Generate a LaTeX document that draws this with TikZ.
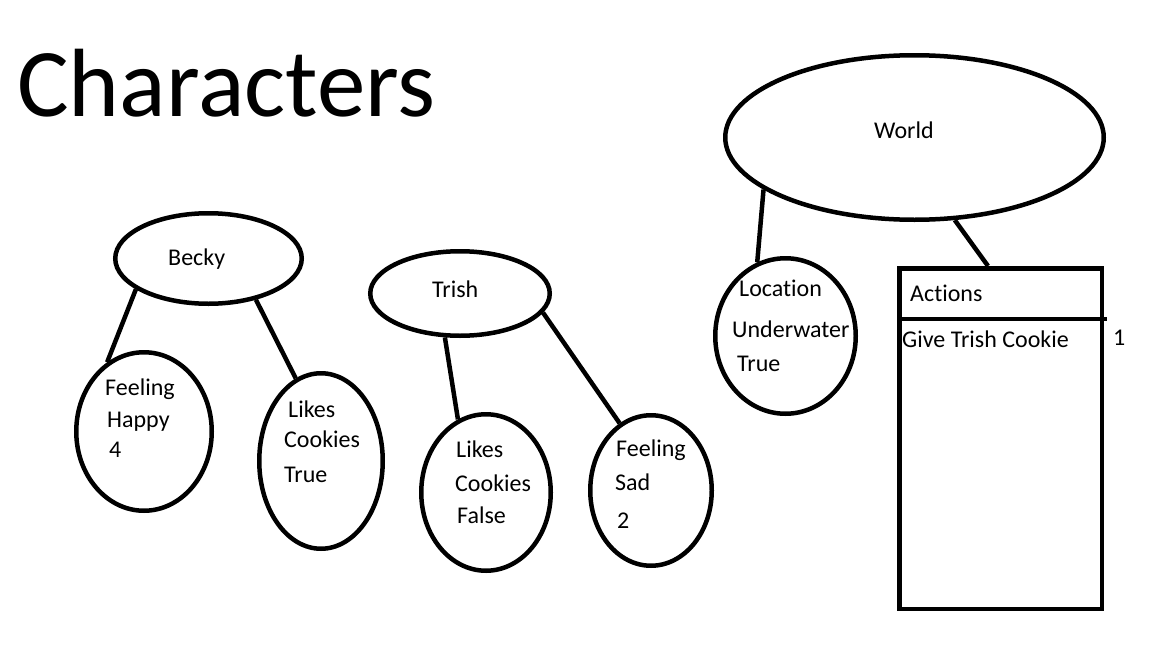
\documentclass[tikz,border=0pt]{standalone}
\usepackage{fontspec}
\setmainfont{Carlito}[Ligatures={NoCommon}]
\usetikzlibrary{shapes.geometric}
\tikzset{
  pen/.style={line width=4.5pt},
  blob/.style={pen, draw, ellipse, inner sep=0pt},
  txt/.style={anchor=base west, inner sep=0pt, font=\fontsize{24}{28}\selectfont},
}
\begin{document}
\begin{tikzpicture}[x=1pt,y=-1pt]
\useasboundingbox (0,0) rectangle (1152,648);
\node[anchor=base west, inner sep=0pt, font=\fontsize{97}{110}\selectfont] (title) at (17,116) {Characters};

\node[blob, minimum width=378.5pt, minimum height=164.5pt] (world) at (914.5,137.5) {};
\node[blob, minimum width=186.5pt, minimum height=90.5pt] (becky) at (208.5,258.5) {};
\node[blob, minimum width=179.5pt, minimum height=84.5pt] (trish) at (460,293.5) {};
\node[blob, minimum width=135.5pt, minimum height=158.5pt] (bFeeling) at (144,431.5) {};
\node[blob, minimum width=123.5pt, minimum height=175.5pt] (bLikes) at (321,461) {};
\node[blob, minimum width=129.5pt, minimum height=156.5pt] (tLikes) at (486,492.5) {};
\node[blob, minimum width=121.5pt, minimum height=150.5pt] (tFeeling) at (651,490.5) {};
\node[blob, minimum width=140.5pt, minimum height=155.5pt] (location) at (785.5,336) {};
\node[pen, draw, rectangle, inner sep=0pt, minimum width=202.5pt, minimum height=340.5pt] (actions) at (1000.5,438.5) {};
\coordinate (divEnd) at (1107,319);
\draw[pen] (actions.west |- divEnd) -- (divEnd);

\draw[pen] (becky.203) -- (bFeeling.118);
\draw[pen] (becky.319) -- (bLikes.107);
\draw[pen] (trish.251) -- (tLikes.111);
\draw[pen] (trish.347) -- (tFeeling.115);
\draw[pen] (world.199) -- (location.111);
\draw[pen] (world.296) -- ([xshift=-12.5pt]actions.north);

\node[txt] (worldTxt) at (874,138) {World};
\node[txt] (beckyTxt) at (168,265) {Becky};
\node[txt] (trishTxt) at (432,297) {Trish};
\node[txt] (bFeelA) at (105,395) {Feeling};
\node[txt] (bFeelB) at (107,427) {Happy};
\node[txt] (bFeelC) at (109,457) {4};
\node[txt] (bLikesA) at (288,417) {Likes};
\node[txt] (bLikesB) at (284,447) {Cookies};
\node[txt] (bLikesC) at (284,482) {True};
\node[txt] (tLikesA) at (456,457) {Likes};
\node[txt] (tLikesB) at (455,491) {Cookies};
\node[txt] (tLikesC) at (457,523) {False};
\node[txt] (tFeelA) at (616,456) {Feeling};
\node[txt] (tFeelB) at (615,490) {Sad};
\node[txt] (tFeelC) at (617,528) {2};
\node[txt] (locA) at (739,296) {Location};
\node[txt] (locB) at (732,337) {Underwater};
\node[txt] (locC) at (737,371) {True};
\node[txt] (actTitle) at (910,301) {Actions};
\node[txt] (actItem) at (902,347) {Give Trish Cookie};
\node[txt] (actCount) at (1113,345) {1};
\end{tikzpicture}
\end{document}
